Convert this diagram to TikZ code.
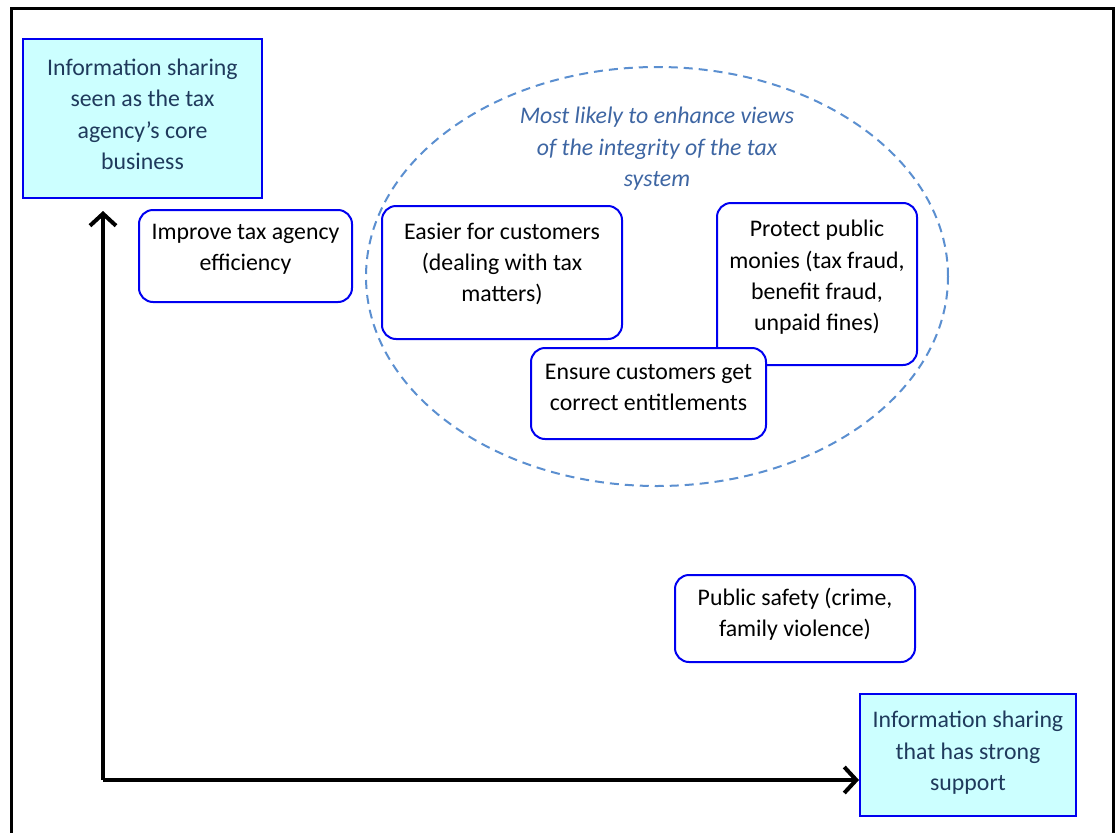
\documentclass[tikz,border=0pt]{standalone}
\usepackage{fontspec}
\setmainfont{Carlito}
\usetikzlibrary{arrows.meta,shapes.geometric}
\definecolor{boxblue}{HTML}{0000F0}
\definecolor{cyanfill}{HTML}{CCFFFF}
\definecolor{darktext}{HTML}{1F3A5C}
\definecolor{ellblue}{HTML}{5B8FD0}
\definecolor{itblue}{HTML}{3E66A3}
\tikzset{
  x=1pt, y=-1pt,
  txt/.style={align=center, inner sep=0pt, font=\fontsize{23.8}{31.4}\selectfont},
  rbox/.style={draw=boxblue, line width=2pt, fill=white, rounded corners=14pt, inner sep=0pt},
  cbox/.style={draw=boxblue, line width=2pt, fill=cyanfill, inner sep=0pt},
  axis/.style={line width=4pt, -{Straight Barb[length=12pt,width=26pt,line width=4pt]}},
}
\begin{document}
\begin{tikzpicture}
\useasboundingbox (0,0) rectangle (1120,833);
% frame
\draw[line width=3pt] (11,845) -- (11,8) -- (1113,8) -- (1113,845);
% ellipse
\node[ellipse, draw=ellblue, dashed, dash pattern=on 9pt off 6pt, line width=2pt,
      minimum width=582pt, minimum height=419pt, inner sep=0pt] (ell) at (657,276.5) {};
\node[txt, font=\fontsize{23.8}{31.4}\selectfont\itshape, text=itblue] (ellt) at (657,149) {Most likely to enhance views\\of the integrity of the tax\\system};
% cyan boxes
\node[cbox, minimum width=239pt, minimum height=159pt] (tl) at (142.5,118.5) {};
\node[txt, text=darktext] (tlt) at (142.5,114.5) {Information sharing\\seen as the tax\\agency’s core\\business};
\node[cbox, minimum width=216pt, minimum height=122pt] (br) at (968,755) {};
\node[txt, text=darktext] (brt) at (968,753) {Information sharing\\that has strong\\support};
% rounded boxes
\node[rbox, minimum width=213pt, minimum height=92pt] (imp) at (245.5,256) {};
\node[txt] (impt) at (245.5,249.5) {Improve tax agency\\efficiency};
\node[rbox, minimum width=240pt, minimum height=133pt] (eas) at (502,272.5) {};
\node[txt] (east) at (502,264) {Easier for customers\\(dealing with tax\\matters)};
\node[rbox, minimum width=200pt, minimum height=162pt] (pro) at (817,284) {};
\node[txt] (prot) at (817,277.5) {Protect public\\monies (tax fraud,\\benefit fraud,\\unpaid fines)};
\node[rbox, minimum width=235pt, minimum height=91pt] (ens) at (648.5,393.5) {};
\node[txt] (enst) at (648.5,387.5) {Ensure customers get\\correct entitlements};
\node[rbox, minimum width=240pt, minimum height=87pt] (pub) at (795,618.5) {};
\node[txt] (pubt) at (795,614) {Public safety (crime,\\family violence)};
% axes
\coordinate (origin) at (103,780);
\draw[axis, shorten >=12pt] (origin) -- (origin |- tl.south);
\draw[axis] (origin) -- (origin -| br.west);
\end{tikzpicture}
\end{document}
